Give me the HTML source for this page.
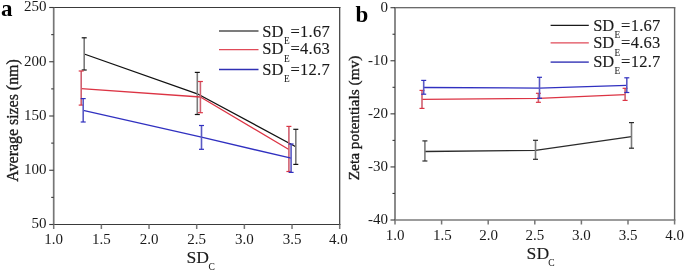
<!DOCTYPE html>
<html><head><meta charset="utf-8"><title>chart</title>
<style>
html,body{margin:0;padding:0;background:#fff;width:685px;height:271px;overflow:hidden}
svg{display:block;will-change:transform}
text{font-family:"Liberation Serif", serif;fill:#1a1a1a;stroke:#1a1a1a;stroke-width:0.3px}
.t{font-size:15px;stroke-width:0}
.lg{font-size:16.5px;stroke-width:0.12px}
.sub{font-size:9.3px;stroke-width:0.05px}
.xt{font-size:17.6px;stroke-width:0.12px}
.xs{font-size:9.5px;stroke-width:0.05px}
.yt{font-size:15px;stroke-width:0.35px}
.pl{font-size:23px;font-weight:bold;fill:#000;stroke:none}
</style></head>
<body>
<svg width="685" height="271" viewBox="0 0 685 271">
<rect width="685" height="271" fill="#fff"/>
<line x1="52.9" y1="7.5" x2="340.5" y2="7.5" stroke="#3a3a3a" stroke-width="1.1"/>
<line x1="52.9" y1="224.5" x2="340.5" y2="224.5" stroke="#3a3a3a" stroke-width="1.1"/>
<line x1="53.7" y1="7.5" x2="53.7" y2="224.5" stroke="#767676" stroke-width="1.7"/>
<line x1="339.7" y1="7.5" x2="339.7" y2="224.5" stroke="#3a3a3a" stroke-width="1.2"/>
<line x1="49.2" y1="224.5" x2="53.7" y2="224.5" stroke="#3a3a3a" stroke-width="1.1"/>
<line x1="49.2" y1="170.25" x2="53.7" y2="170.25" stroke="#3a3a3a" stroke-width="1.1"/>
<line x1="49.2" y1="116" x2="53.7" y2="116" stroke="#3a3a3a" stroke-width="1.1"/>
<line x1="49.2" y1="61.75" x2="53.7" y2="61.75" stroke="#3a3a3a" stroke-width="1.1"/>
<line x1="49.2" y1="7.5" x2="53.7" y2="7.5" stroke="#3a3a3a" stroke-width="1.1"/>
<line x1="51.2" y1="197.38" x2="53.7" y2="197.38" stroke="#3a3a3a" stroke-width="1.1"/>
<line x1="51.2" y1="143.12" x2="53.7" y2="143.12" stroke="#3a3a3a" stroke-width="1.1"/>
<line x1="51.2" y1="88.88" x2="53.7" y2="88.88" stroke="#3a3a3a" stroke-width="1.1"/>
<line x1="51.2" y1="34.62" x2="53.7" y2="34.62" stroke="#3a3a3a" stroke-width="1.1"/>
<line x1="53.7" y1="224.5" x2="53.7" y2="229" stroke="#767676" stroke-width="1.5"/>
<text x="53.7" y="244.1" text-anchor="middle" class="t">1.0</text>
<line x1="101.37" y1="224.5" x2="101.37" y2="229" stroke="#767676" stroke-width="1.5"/>
<text x="101.37" y="244.1" text-anchor="middle" class="t">1.5</text>
<line x1="149.03" y1="224.5" x2="149.03" y2="229" stroke="#767676" stroke-width="1.5"/>
<text x="149.03" y="244.1" text-anchor="middle" class="t">2.0</text>
<line x1="196.7" y1="224.5" x2="196.7" y2="229" stroke="#767676" stroke-width="1.5"/>
<text x="196.7" y="244.1" text-anchor="middle" class="t">2.5</text>
<line x1="244.37" y1="224.5" x2="244.37" y2="229" stroke="#767676" stroke-width="1.5"/>
<text x="244.37" y="244.1" text-anchor="middle" class="t">3.0</text>
<line x1="292.03" y1="224.5" x2="292.03" y2="229" stroke="#767676" stroke-width="1.5"/>
<text x="292.03" y="244.1" text-anchor="middle" class="t">3.5</text>
<line x1="339.7" y1="224.5" x2="339.7" y2="229" stroke="#767676" stroke-width="1.5"/>
<text x="338.3" y="244.1" text-anchor="middle" class="t">4.0</text>
<text x="46.6" y="228.4" text-anchor="end" class="t">50</text>
<text x="46.6" y="174.15" text-anchor="end" class="t">100</text>
<text x="46.6" y="119.9" text-anchor="end" class="t">150</text>
<text x="46.6" y="65.65" text-anchor="end" class="t">200</text>
<text x="46.6" y="11.4" text-anchor="end" class="t">250</text>
<line x1="394.2" y1="7.7" x2="675.4" y2="7.7" stroke="#3a3a3a" stroke-width="1.1"/>
<line x1="394.2" y1="220" x2="675.4" y2="220" stroke="#3a3a3a" stroke-width="1.1"/>
<line x1="395" y1="7.7" x2="395" y2="220" stroke="#767676" stroke-width="1.7"/>
<line x1="674.6" y1="7.7" x2="674.6" y2="220" stroke="#666" stroke-width="1.4"/>
<line x1="390.5" y1="220" x2="395" y2="220" stroke="#3a3a3a" stroke-width="1.1"/>
<line x1="390.5" y1="166.93" x2="395" y2="166.93" stroke="#3a3a3a" stroke-width="1.1"/>
<line x1="390.5" y1="113.85" x2="395" y2="113.85" stroke="#3a3a3a" stroke-width="1.1"/>
<line x1="390.5" y1="60.77" x2="395" y2="60.77" stroke="#3a3a3a" stroke-width="1.1"/>
<line x1="390.5" y1="7.7" x2="395" y2="7.7" stroke="#3a3a3a" stroke-width="1.1"/>
<line x1="392.5" y1="193.46" x2="395" y2="193.46" stroke="#3a3a3a" stroke-width="1.1"/>
<line x1="392.5" y1="140.39" x2="395" y2="140.39" stroke="#3a3a3a" stroke-width="1.1"/>
<line x1="392.5" y1="87.31" x2="395" y2="87.31" stroke="#3a3a3a" stroke-width="1.1"/>
<line x1="392.5" y1="34.24" x2="395" y2="34.24" stroke="#3a3a3a" stroke-width="1.1"/>
<line x1="395" y1="220" x2="395" y2="224.5" stroke="#767676" stroke-width="1.5"/>
<text x="395" y="239.5" text-anchor="middle" class="t">1.0</text>
<line x1="441.6" y1="220" x2="441.6" y2="224.5" stroke="#767676" stroke-width="1.5"/>
<text x="442.4" y="239.5" text-anchor="middle" class="t">1.5</text>
<line x1="488.2" y1="220" x2="488.2" y2="224.5" stroke="#767676" stroke-width="1.5"/>
<text x="488.5" y="239.5" text-anchor="middle" class="t">2.0</text>
<line x1="534.8" y1="220" x2="534.8" y2="224.5" stroke="#767676" stroke-width="1.5"/>
<text x="534.8" y="239.5" text-anchor="middle" class="t">2.5</text>
<line x1="581.4" y1="220" x2="581.4" y2="224.5" stroke="#767676" stroke-width="1.5"/>
<text x="581.4" y="239.5" text-anchor="middle" class="t">3.0</text>
<line x1="628" y1="220" x2="628" y2="224.5" stroke="#767676" stroke-width="1.5"/>
<text x="628" y="239.5" text-anchor="middle" class="t">3.5</text>
<line x1="674.6" y1="220" x2="674.6" y2="224.5" stroke="#767676" stroke-width="1.5"/>
<text x="674.6" y="239.5" text-anchor="middle" class="t">4.0</text>
<text x="388" y="224.3" text-anchor="end" class="t">-40</text>
<text x="388" y="171.23" text-anchor="end" class="t">-30</text>
<text x="388" y="118.15" text-anchor="end" class="t">-20</text>
<text x="388" y="65.07" text-anchor="end" class="t">-10</text>
<text x="388" y="12" text-anchor="end" class="t">0</text>
<polyline points="84.2,54 197.3,93.8 295.8,146.7" fill="none" stroke="#111" stroke-width="1.3" stroke-linejoin="round"/>
<line x1="84.2" y1="37.8" x2="84.2" y2="70" stroke="#7a7a7a" stroke-width="1.6"/>
<line x1="81.7" y1="37.8" x2="86.7" y2="37.8" stroke="#111" stroke-width="1.2"/>
<line x1="81.7" y1="70" x2="86.7" y2="70" stroke="#111" stroke-width="1.2"/>
<line x1="197.3" y1="72.4" x2="197.3" y2="114.5" stroke="#7a7a7a" stroke-width="1.6"/>
<line x1="194.8" y1="72.4" x2="199.8" y2="72.4" stroke="#111" stroke-width="1.2"/>
<line x1="194.8" y1="114.5" x2="199.8" y2="114.5" stroke="#111" stroke-width="1.2"/>
<line x1="295.8" y1="129.3" x2="295.8" y2="164.4" stroke="#7a7a7a" stroke-width="1.6"/>
<line x1="293.3" y1="129.3" x2="298.3" y2="129.3" stroke="#111" stroke-width="1.2"/>
<line x1="293.3" y1="164.4" x2="298.3" y2="164.4" stroke="#111" stroke-width="1.2"/>
<polyline points="81.2,88.6 200.4,97 288.9,149.5" fill="none" stroke="#dc3444" stroke-width="1.3" stroke-linejoin="round"/>
<line x1="81.2" y1="71" x2="81.2" y2="105.1" stroke="#d06070" stroke-width="1.6"/>
<line x1="78.7" y1="71" x2="83.7" y2="71" stroke="#dc3444" stroke-width="1.2"/>
<line x1="78.7" y1="105.1" x2="83.7" y2="105.1" stroke="#dc3444" stroke-width="1.2"/>
<line x1="200.4" y1="81.5" x2="200.4" y2="112.7" stroke="#d06070" stroke-width="1.6"/>
<line x1="197.9" y1="81.5" x2="202.9" y2="81.5" stroke="#dc3444" stroke-width="1.2"/>
<line x1="197.9" y1="112.7" x2="202.9" y2="112.7" stroke="#dc3444" stroke-width="1.2"/>
<line x1="288.9" y1="126.4" x2="288.9" y2="171.5" stroke="#d06070" stroke-width="1.6"/>
<line x1="286.4" y1="126.4" x2="291.4" y2="126.4" stroke="#dc3444" stroke-width="1.2"/>
<line x1="286.4" y1="171.5" x2="291.4" y2="171.5" stroke="#dc3444" stroke-width="1.2"/>
<polyline points="83.2,110.4 201.5,137.2 291.1,158.2" fill="none" stroke="#3030c0" stroke-width="1.3" stroke-linejoin="round"/>
<line x1="83.2" y1="98.6" x2="83.2" y2="122" stroke="#5a5ac4" stroke-width="1.6"/>
<line x1="80.7" y1="98.6" x2="85.7" y2="98.6" stroke="#3030c0" stroke-width="1.2"/>
<line x1="80.7" y1="122" x2="85.7" y2="122" stroke="#3030c0" stroke-width="1.2"/>
<line x1="201.5" y1="125.5" x2="201.5" y2="149.3" stroke="#5a5ac4" stroke-width="1.6"/>
<line x1="199" y1="125.5" x2="204" y2="125.5" stroke="#3030c0" stroke-width="1.2"/>
<line x1="199" y1="149.3" x2="204" y2="149.3" stroke="#3030c0" stroke-width="1.2"/>
<line x1="291.1" y1="144" x2="291.1" y2="172.4" stroke="#5a5ac4" stroke-width="1.6"/>
<line x1="288.6" y1="144" x2="293.6" y2="144" stroke="#3030c0" stroke-width="1.2"/>
<line x1="288.6" y1="172.4" x2="293.6" y2="172.4" stroke="#3030c0" stroke-width="1.2"/>
<polyline points="424.9,151.5 535.5,150.4 631.5,136.6" fill="none" stroke="#2a2a2a" stroke-width="1.3" stroke-linejoin="round"/>
<line x1="424.9" y1="140.9" x2="424.9" y2="161" stroke="#7a7a7a" stroke-width="1.6"/>
<line x1="422.4" y1="140.9" x2="427.4" y2="140.9" stroke="#2a2a2a" stroke-width="1.2"/>
<line x1="422.4" y1="161" x2="427.4" y2="161" stroke="#2a2a2a" stroke-width="1.2"/>
<line x1="535.5" y1="140.3" x2="535.5" y2="159.3" stroke="#7a7a7a" stroke-width="1.6"/>
<line x1="533" y1="140.3" x2="538" y2="140.3" stroke="#2a2a2a" stroke-width="1.2"/>
<line x1="533" y1="159.3" x2="538" y2="159.3" stroke="#2a2a2a" stroke-width="1.2"/>
<line x1="631.5" y1="122.6" x2="631.5" y2="148.2" stroke="#7a7a7a" stroke-width="1.6"/>
<line x1="629" y1="122.6" x2="634" y2="122.6" stroke="#2a2a2a" stroke-width="1.2"/>
<line x1="629" y1="148.2" x2="634" y2="148.2" stroke="#2a2a2a" stroke-width="1.2"/>
<polyline points="422,99.3 538.4,98.3 625.1,94.6" fill="none" stroke="#dc3444" stroke-width="1.3" stroke-linejoin="round"/>
<line x1="422" y1="90.4" x2="422" y2="108.4" stroke="#d06070" stroke-width="1.6"/>
<line x1="419.5" y1="90.4" x2="424.5" y2="90.4" stroke="#dc3444" stroke-width="1.2"/>
<line x1="419.5" y1="108.4" x2="424.5" y2="108.4" stroke="#dc3444" stroke-width="1.2"/>
<line x1="538.4" y1="93.3" x2="538.4" y2="102.3" stroke="#d06070" stroke-width="1.6"/>
<line x1="535.9" y1="93.3" x2="540.9" y2="93.3" stroke="#dc3444" stroke-width="1.2"/>
<line x1="535.9" y1="102.3" x2="540.9" y2="102.3" stroke="#dc3444" stroke-width="1.2"/>
<line x1="625.1" y1="88.3" x2="625.1" y2="100.4" stroke="#d06070" stroke-width="1.6"/>
<line x1="622.6" y1="88.3" x2="627.6" y2="88.3" stroke="#dc3444" stroke-width="1.2"/>
<line x1="622.6" y1="100.4" x2="627.6" y2="100.4" stroke="#dc3444" stroke-width="1.2"/>
<polyline points="423.7,87.5 539.5,88.1 626.8,85.4" fill="none" stroke="#3030c0" stroke-width="1.3" stroke-linejoin="round"/>
<line x1="423.7" y1="80.4" x2="423.7" y2="94.2" stroke="#5a5ac4" stroke-width="1.6"/>
<line x1="421.2" y1="80.4" x2="426.2" y2="80.4" stroke="#3030c0" stroke-width="1.2"/>
<line x1="421.2" y1="94.2" x2="426.2" y2="94.2" stroke="#3030c0" stroke-width="1.2"/>
<line x1="539.5" y1="77.3" x2="539.5" y2="98.3" stroke="#5a5ac4" stroke-width="1.6"/>
<line x1="537" y1="77.3" x2="542" y2="77.3" stroke="#3030c0" stroke-width="1.2"/>
<line x1="537" y1="98.3" x2="542" y2="98.3" stroke="#3030c0" stroke-width="1.2"/>
<line x1="626.8" y1="77.8" x2="626.8" y2="92.5" stroke="#5a5ac4" stroke-width="1.6"/>
<line x1="624.3" y1="77.8" x2="629.3" y2="77.8" stroke="#3030c0" stroke-width="1.2"/>
<line x1="624.3" y1="92.5" x2="629.3" y2="92.5" stroke="#3030c0" stroke-width="1.2"/>
<line x1="219" y1="31" x2="258.5" y2="31" stroke="#505050" stroke-width="1.5"/>
<text x="262.3" y="36.7" class="lg">SD</text>
<text x="284" y="43.8" class="sub">E</text>
<text x="290.5" y="36.7" class="lg" letter-spacing="0.25">=1.67</text>
<line x1="219" y1="49.6" x2="258.5" y2="49.6" stroke="#e04a58" stroke-width="1.3"/>
<text x="262.3" y="54.4" class="lg">SD</text>
<text x="284" y="61.5" class="sub">E</text>
<text x="290.5" y="54.4" class="lg" letter-spacing="0.25">=4.63</text>
<line x1="219" y1="69.5" x2="258.5" y2="69.5" stroke="#3030b4" stroke-width="1.3"/>
<text x="262.3" y="74.9" class="lg">SD</text>
<text x="284" y="82" class="sub">E</text>
<text x="290.5" y="74.9" class="lg" letter-spacing="0.25">=12.7</text>
<line x1="550.6" y1="25.4" x2="588.8" y2="25.4" stroke="#1a1a1a" stroke-width="1.3"/>
<text x="593.2" y="30.9" class="lg">SD</text>
<text x="614.6" y="38" class="sub">E</text>
<text x="621.1" y="30.9" class="lg" letter-spacing="0.25">=1.67</text>
<line x1="550.6" y1="42.8" x2="588.8" y2="42.8" stroke="#e04a58" stroke-width="1.3"/>
<text x="593.2" y="48.4" class="lg">SD</text>
<text x="614.6" y="55.5" class="sub">E</text>
<text x="621.1" y="48.4" class="lg" letter-spacing="0.25">=4.63</text>
<line x1="550.6" y1="62.1" x2="588.8" y2="62.1" stroke="#5c5cc4" stroke-width="1.6"/>
<text x="593.2" y="67.3" class="lg">SD</text>
<text x="614.6" y="74.4" class="sub">E</text>
<text x="621.1" y="67.3" class="lg" letter-spacing="0.25">=12.7</text>
<text x="186.5" y="262.7" class="xt">SD</text><text x="208.6" y="269.5" class="xs">C</text>
<text x="526.6" y="259.1" class="xt">SD</text><text x="548.3" y="266" class="xs">C</text>
<text transform="translate(17.7,120.45) rotate(-90)" text-anchor="middle" class="yt" style="font-size:15.9px">Average sizes (nm)</text>
<text transform="translate(358.8,117.95) rotate(-90)" text-anchor="middle" class="yt" style="font-size:15.4px">Zeta potentials (mv)</text>
<text x="1" y="16.4" class="pl">a</text>
<text x="355.5" y="22" class="pl">b</text>
</svg>
</body></html>
